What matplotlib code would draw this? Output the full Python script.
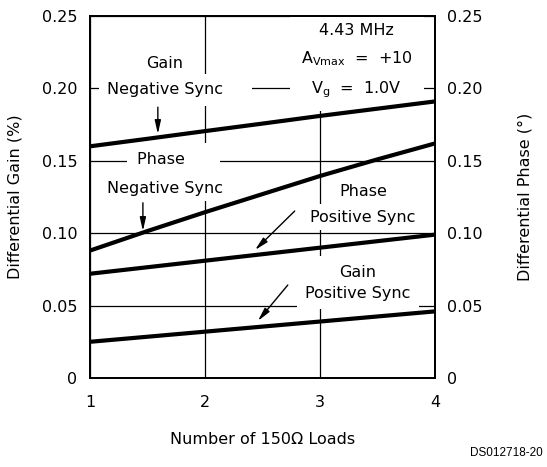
import matplotlib
matplotlib.use("Agg")
import matplotlib.pyplot as plt

plt.rcParams['font.family'] = ['DejaVu Sans']
plt.rcParams['mathtext.default'] = 'regular'

loads = [1, 1.5, 2, 2.5, 3, 3.5, 4]
gain_neg = [0.160, 0.1652, 0.1705, 0.1757, 0.181, 0.186, 0.191]
phase_neg = [0.088, 0.1015, 0.1145, 0.127, 0.1395, 0.151, 0.162]
phase_pos = [0.072, 0.0765, 0.081, 0.0855, 0.090, 0.0945, 0.099]
gain_pos = [0.025, 0.0285, 0.032, 0.0355, 0.039, 0.0425, 0.046]

xticks = [1, 2, 3, 4]
yticks = [0, 0.05, 0.10, 0.15, 0.20, 0.25]
ytick_labels = ["0", "0.05", "0.10", "0.15", "0.20", "0.25"]

FS = 11.5
fig = plt.figure(figsize=(5.47, 4.67), dpi=100)
ax = fig.add_axes([90/547, 1-378/467, 345/547, 362/467])
ax.set_xlim(1, 4)
ax.set_ylim(0, 0.25)
ax.set_xticks(xticks)
ax.set_xticklabels([str(t) for t in xticks], fontsize=FS)
ax.set_yticks(yticks)
ax.set_yticklabels(ytick_labels, fontsize=FS)
ax.tick_params(axis='both', length=0)
ax.tick_params(axis='y', pad=9)
ax.tick_params(axis='x', pad=12)
ax.set_axisbelow(True)
ax.grid(True, color='black', lw=0.9)
for s in ax.spines.values():
    s.set_linewidth(1.3)
    s.set_zorder(10)

ax2 = ax.twinx()
ax2.set_ylim(0, 0.25)
ax2.set_yticks(yticks)
ax2.set_yticklabels(ytick_labels, fontsize=FS)
ax2.tick_params(axis='y', length=0, pad=9)
for s in ax2.spines.values():
    s.set_linewidth(1.3)
    s.set_zorder(10)

for series in (gain_neg, phase_neg, phase_pos, gain_pos):
    ax.plot(loads, series, color='black', lw=3.0, zorder=5, solid_capstyle='butt')

box = dict(facecolor='white', edgecolor='none')

ax.text(1.652, 0.2175, "Gain", ha='center', va='center', fontsize=FS)
ax.text(1.74, 0.199, "Negative Sync    ", ha='center', va='center', fontsize=FS,
        bbox=dict(box, pad=6), zorder=4)
ax.text(3.32, 0.2186, "4.43 MHz\n$A_{Vmax}$  =  +10\n$V_g$  =  1.0V", ha='center', va='center',
        multialignment='center', fontsize=FS, linespacing=1.8,
        bbox=dict(box, pad=8), zorder=4, clip_on=True)

ax.text(1.73, 0.1506, "Phase     ", ha='center', va='center', fontsize=FS,
        bbox=dict(box, pad=7), zorder=4)
ax.text(1.652, 0.131, "Negative Sync", ha='center', va='center', fontsize=FS,
        bbox=dict(box, pad=4), zorder=4)

ax.text(3.38, 0.1285, "Phase", ha='center', va='center', fontsize=FS)
ax.text(3.374, 0.111, "Positive Sync", ha='center', va='center', fontsize=FS,
        bbox=dict(box, pad=4), zorder=4)

ax.text(3.33, 0.0657, "Gain\nPositive Sync", ha='center', va='center', fontsize=FS,
        multialignment='center', linespacing=1.55, bbox=dict(box, pad=6), zorder=4)

arrow = dict(arrowstyle='-|>,head_length=0.8,head_width=0.18', color='black', lw=1.0,
             shrinkA=0, shrinkB=0)
ax.annotate("", xy=(1.59, 0.1685), xytext=(1.59, 0.187), arrowprops=arrow, zorder=6)
ax.annotate("", xy=(1.46, 0.1015), xytext=(1.46, 0.121), arrowprops=arrow, zorder=6)
ax.annotate("", xy=(2.435, 0.0884), xytext=(2.78, 0.1153), arrowprops=arrow, zorder=6)
ax.annotate("", xy=(2.46, 0.0394), xytext=(2.72, 0.0642), arrowprops=arrow, zorder=6)

ax.set_ylabel("Differential Gain (%)", fontsize=FS)
ax.yaxis.set_label_coords(-0.197, 0.5)
ax2.set_ylabel("Differential Phase (°)", fontsize=FS)
ax2.yaxis.set_label_coords(1.24, 0.5)
ax.set_xlabel("Number of 150Ω Loads", fontsize=FS)
ax.xaxis.set_label_coords(0.5, -0.15)

fig.text(0.993, 0.018, "DS012718-20", ha='right', va='bottom', fontsize=8.5,
         family='Liberation Sans')

fig.savefig("out.png", dpi=100)
